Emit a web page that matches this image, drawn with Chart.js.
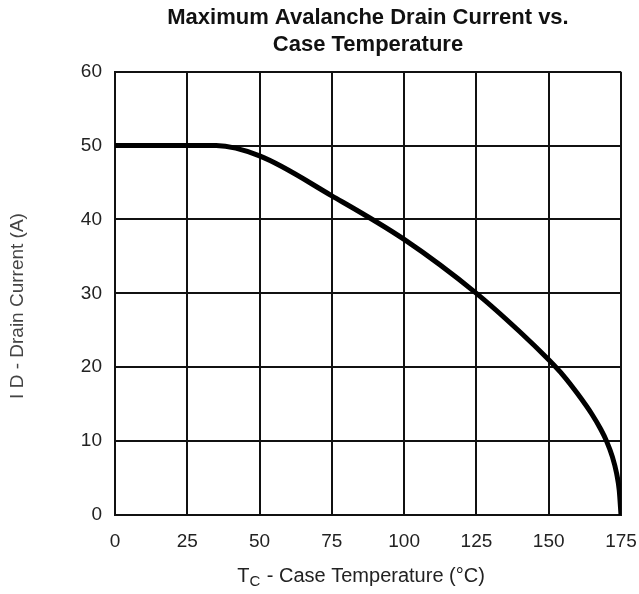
<!DOCTYPE html>
<html>
<head>
<meta charset="utf-8">
<script src="https://cdn.jsdelivr.net/npm/chart.js@4"></script>
<style>
  html, body { margin: 0; padding: 0; background: #fff; }
  #wrap { width: 639px; height: 594px; position: relative; }
</style>
</head>
<body>
<div id="wrap"><canvas id="avalancheChart"></canvas></div>
<script>
// DATA
const caseTemp = [0, 35, 50, 75, 100, 125, 140, 150, 155, 160, 165, 168, 170, 172, 173.5, 174.4, 175];
const drainCurrent = [50, 50, 48.6, 43.2, 37.3, 30.0, 24.8, 21.0, 18.9, 16.4, 13.6, 11.6, 10.0, 7.9, 5.6, 3.3, 0];
const xTicks = [0, 25, 50, 75, 100, 125, 150, 175];
const yTicks = [0, 10, 20, 30, 40, 50, 60];

const FONT = "'Liberation Sans', Arial, Helvetica, sans-serif";

// axis titles (x title has a subscript C)
const axisTitlePlugin = {
  id: "axisTitles",
  afterDraw(chart) {
    const ctx = chart.ctx;
    const cx = 361;
    const y = 576;
    ctx.save();
    ctx.fillStyle = "#222";
    ctx.textBaseline = "middle";
    ctx.textAlign = "left";
    const t = "T";
    const rest = " - Case Temperature (°C)";
    ctx.font = "15px " + FONT;
    const wSub = ctx.measureText("C").width;
    ctx.font = "20px " + FONT;
    const wT = ctx.measureText(t).width;
    const wRest = ctx.measureText(rest).width;
    let x = cx - (wT + wSub + 1 + wRest) / 2;
    ctx.fillText(t, x, y);
    x += wT;
    ctx.font = "15px " + FONT;
    ctx.fillText("C", x, y + 6);
    x += wSub + 1;
    ctx.font = "20px " + FONT;
    ctx.fillText(rest, x, y);

    // y title
    ctx.translate(18, 306);
    ctx.rotate(-Math.PI / 2);
    ctx.textAlign = "center";
    ctx.fillStyle = "#444";
    ctx.font = "19px " + FONT;
    ctx.fillText("I D - Drain Current (A)", 0, 0);
    ctx.restore();
  }
};

const chart = new Chart(document.getElementById("avalancheChart").getContext("2d"), {
  type: "line",
  data: {
    datasets: [
      {
        data: caseTemp.map((t, i) => ({ x: t, y: drainCurrent[i] })),
        borderColor: "#000",
        borderWidth: 5,
        pointRadius: 0,
        fill: false,
        cubicInterpolationMode: "monotone"
      }
    ]
  },
  options: {
    responsive: true,
    maintainAspectRatio: false,
    animation: false,
    layout: { padding: 0 },
    plugins: {
      legend: { display: false },
      tooltip: { enabled: false },
      title: {
        display: true,
        fullSize: false,
        text: ["Maximum Avalanche Drain Current vs.", "Case Temperature"],
        color: "#111",
        font: { family: FONT, size: 22, weight: "bold", lineHeight: 1.22 },
        padding: { top: 4.5, bottom: 13.5 }
      }
    },
    scales: {
      x: {
        type: "linear",
        min: 0,
        max: 175,
        afterBuildTicks: s => { s.ticks = xTicks.map(v => ({ value: v })); },
        afterFit: s => { s.height = 79; s.paddingRight = 18; s.paddingLeft = 0; },
        grid: { color: "#111", lineWidth: 2, drawTicks: false },
        border: { color: "#111", width: 2 },
        ticks: { color: "#222", font: { family: FONT, size: 19 }, padding: 15, maxRotation: 0 }
      },
      y: {
        min: 0,
        max: 60,
        afterBuildTicks: s => { s.ticks = yTicks.map(v => ({ value: v })); },
        afterFit: s => { s.width = 115; },
        grid: { color: "#111", lineWidth: 2, drawTicks: false },
        border: { color: "#111", width: 2 },
        ticks: { color: "#222", font: { family: FONT, size: 19 }, padding: 13 }
      }
    }
  },
  plugins: [axisTitlePlugin]
});
</script>
</body>
</html>
